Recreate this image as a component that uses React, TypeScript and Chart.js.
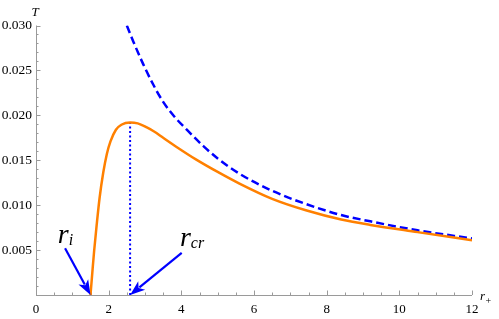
import React, { useEffect, useRef } from 'react';
import { Chart, registerables } from 'chart.js';

Chart.register(...registerables);

// ---- data ----
const orangeR = [1.5, 1.55, 1.6, 1.67, 1.75, 1.85, 1.95, 2.05, 2.2, 2.35, 2.59, 2.8, 3.05, 3.25, 3.5, 3.9, 4.4, 5.0, 5.6, 6.5, 7.45, 8.4, 9.2, 10.5, 12];
const orangeT = [0, 0.0025, 0.0049, 0.0078, 0.0108, 0.0136, 0.0157, 0.0171, 0.0184, 0.01895, 0.0192, 0.0191, 0.01865, 0.0182, 0.0175, 0.0164, 0.0151, 0.0137, 0.0124, 0.0107, 0.0094, 0.0084, 0.0078, 0.0070, 0.0061];
const blueR = [2.5, 2.68, 2.95, 3.23, 3.5, 3.8, 4.15, 4.6, 5.0, 5.6, 6.5, 7.45, 8.4, 9.2, 10.5, 12];
const blueT = [0.0300, 0.0282, 0.0257, 0.0234, 0.0215, 0.0199, 0.0184, 0.0166, 0.0152, 0.0135, 0.0116, 0.0101, 0.0089, 0.0082, 0.0072, 0.0063];
const innerR = 1.5;
const criticalR = 2.59;
const peakT = 0.0192;
const xTicks = [0, 2, 4, 6, 8, 10, 12];
const yTicks = [0, 0.005, 0.01, 0.015, 0.02, 0.025, 0.03];
const xMinorStep = 0.5;
const yMinorStep = 0.001;

// annotation anchors (data units)
const riArrowTail = { x: 0.8, y: 0.0052 };
const rcrArrowTail = { x: 4.01, y: 0.0047 };
const riLabelPos = { x: 0.6, y: 0.0058 };
const rcrLabelPos = { x: 3.96, y: 0.0055 };

const AXIS_COLOR = '#9a9a9a';
const BLUE = '#0000ff';
const ORANGE = '#ff8000';
const SERIF = '"Liberation Serif"';

function drawArrow(ctx: CanvasRenderingContext2D, x0: number, y0: number, x1: number, y1: number) {
  const ang = Math.atan2(y1 - y0, x1 - x0);
  const headLen = 15;
  const headW = 5.5;
  const bx = x1 - headLen * Math.cos(ang);
  const by = y1 - headLen * Math.sin(ang);
  ctx.save();
  ctx.strokeStyle = BLUE;
  ctx.fillStyle = BLUE;
  ctx.lineWidth = 2.2;
  ctx.beginPath();
  ctx.moveTo(x0, y0);
  ctx.lineTo(bx + 3 * Math.cos(ang), by + 3 * Math.sin(ang));
  ctx.stroke();
  ctx.beginPath();
  ctx.moveTo(x1, y1);
  ctx.lineTo(bx + headW * Math.sin(ang), by - headW * Math.cos(ang));
  ctx.lineTo(bx + 4 * Math.cos(ang), by + 4 * Math.sin(ang));
  ctx.lineTo(bx - headW * Math.sin(ang), by + headW * Math.cos(ang));
  ctx.closePath();
  ctx.fill();
  ctx.restore();
}

const mathAxes = {
  id: 'mathAxes',
  beforeDatasetsDraw(chart: any) {
    const { ctx, scales } = chart;
    const xs = scales.x;
    const ys = scales.y;
    const x0 = xs.getPixelForValue(0);
    const x1 = xs.getPixelForValue(12);
    const y0 = ys.getPixelForValue(0);
    const y1 = ys.getPixelForValue(0.03);
    ctx.save();
    ctx.strokeStyle = AXIS_COLOR;
    ctx.lineWidth = 1;
    ctx.beginPath();
    ctx.moveTo(x0, Math.round(y0) + 0.5);
    ctx.lineTo(x1, Math.round(y0) + 0.5);
    ctx.moveTo(Math.round(x0) + 0.5, y0);
    ctx.lineTo(Math.round(x0) + 0.5, y1);
    for (let i = 0; i <= 24; i++) {
      const v = i * xMinorStep;
      const major = i % 4 === 0;
      const px = Math.round(xs.getPixelForValue(v)) + 0.5;
      const len = major ? 4.5 : 2.5;
      ctx.moveTo(px, y0);
      ctx.lineTo(px, y0 - len);
    }
    for (let i = 0; i <= 30; i++) {
      const v = i * yMinorStep;
      const major = i % 5 === 0;
      const py = Math.round(ys.getPixelForValue(v)) + 0.5;
      const len = major ? 4.5 : 2.5;
      ctx.moveTo(x0, py);
      ctx.lineTo(x0 + len, py);
    }
    ctx.stroke();

    ctx.fillStyle = '#000';
    ctx.font = `italic 13px ${SERIF}`;
    ctx.textBaseline = 'alphabetic';
    ctx.textAlign = 'center';
    ctx.fillText('T', x0 - 1, y1 - 10);
    ctx.textAlign = 'left';
    ctx.fillText('r', x1 + 8, y0 + 5);
    ctx.font = `10px ${SERIF}`;
    ctx.fillText('+', x1 + 13.5, y0 + 9);
    ctx.restore();
  },
  afterDatasetsDraw(chart: any) {
    const { ctx, scales } = chart;
    const xs = scales.x;
    const ys = scales.y;
    const px = (p: { x: number; y: number }) => [xs.getPixelForValue(p.x), ys.getPixelForValue(p.y)];
    const [t1x, t1y] = px(riArrowTail);
    drawArrow(ctx, t1x, t1y, xs.getPixelForValue(innerR), ys.getPixelForValue(0));
    const [t2x, t2y] = px(rcrArrowTail);
    drawArrow(ctx, t2x, t2y, xs.getPixelForValue(criticalR), ys.getPixelForValue(0));

    ctx.save();
    ctx.fillStyle = '#000';
    ctx.textBaseline = 'alphabetic';
    ctx.textAlign = 'left';
    const [lx, ly] = px(riLabelPos);
    ctx.font = `italic 28px ${SERIF}`;
    ctx.fillText('r', lx, ly);
    const w1 = ctx.measureText('r').width;
    ctx.font = `italic 16px ${SERIF}`;
    ctx.fillText('i', lx + w1, ly + 2);

    const [mx, my] = px(rcrLabelPos);
    ctx.font = `italic 28px ${SERIF}`;
    ctx.fillText('r', mx, my);
    const w2 = ctx.measureText('r').width;
    ctx.font = `italic 16px ${SERIF}`;
    ctx.fillText('cr', mx + w2, my + 2);
    ctx.restore();
  },
};

export default function App() {
  const ref = useRef<HTMLCanvasElement | null>(null);
  useEffect(() => {
    if (!ref.current) return;
    const chart = new Chart(ref.current, {
      type: 'line',
      data: {
        datasets: [
          {
            label: 'T',
            data: orangeR.map((r, i) => ({ x: r, y: orangeT[i] })),
            borderColor: ORANGE,
            borderWidth: 2.5,
            pointRadius: 0,
            cubicInterpolationMode: 'monotone',
            fill: false,
          },
          {
            label: 'T2',
            data: blueR.map((r, i) => ({ x: r, y: blueT[i] })),
            borderColor: BLUE,
            borderWidth: 2.5,
            borderDash: [8, 4],
            pointRadius: 0,
            cubicInterpolationMode: 'monotone',
            fill: false,
          },
          {
            label: 'rcr',
            data: [
              { x: criticalR, y: 0 },
              { x: criticalR, y: peakT },
            ],
            borderColor: BLUE,
            borderWidth: 2,
            borderDash: [2, 2.5],
            pointRadius: 0,
            fill: false,
          },
        ],
      },
      options: {
        animation: false,
        responsive: false,
        events: [],
        font: { family: SERIF },
        layout: { padding: { left: 0, top: 25.5, right: 27, bottom: 0 } },
        plugins: { legend: { display: false }, tooltip: { enabled: false } },
        scales: {
          x: {
            type: 'linear',
            min: 0,
            max: 12,
            afterBuildTicks: (s: any) => {
              s.ticks = xTicks.map((v) => ({ value: v }));
            },
            afterFit: (s: any) => {
              s.height = 24;
            },
            grid: { display: false, drawTicks: false },
            border: { display: false },
            ticks: {
              color: '#000',
              font: { family: SERIF, size: 13 },
              padding: 7,
              maxRotation: 0,
              autoSkip: false,
              callback: (v: any) => String(v),
            },
          },
          y: {
            type: 'linear',
            min: 0,
            max: 0.03,
            afterBuildTicks: (s: any) => {
              s.ticks = yTicks.map((v) => ({ value: v }));
            },
            afterFit: (s: any) => {
              s.width = 36;
            },
            grid: { display: false, drawTicks: false },
            border: { display: false },
            ticks: {
              color: '#000',
              font: { family: SERIF, size: 13.5 },
              padding: 4,
              autoSkip: false,
              callback: (v: any) => (Math.abs(v) < 1e-9 ? '' : Number(v).toFixed(3)),
            },
          },
        },
      },
      plugins: [mathAxes],
    } as any);
    return () => chart.destroy();
  }, []);
  return (
    <div style={{ position: 'fixed', left: 0, top: 0, width: 499, height: 319, background: '#fff' }}>
      <canvas ref={ref} width={499} height={319} style={{ display: 'block' }} />
    </div>
  );
}
